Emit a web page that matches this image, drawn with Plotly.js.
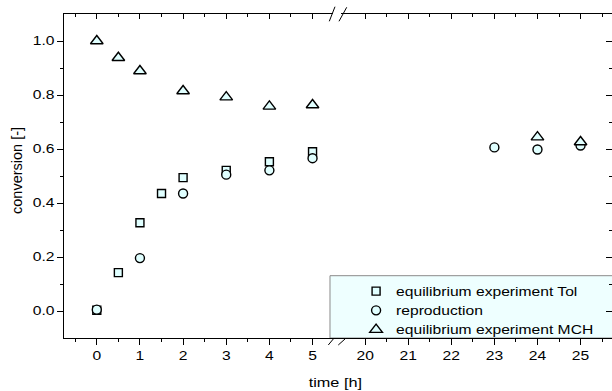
<!DOCTYPE html>
<html>
<head>
<meta charset="utf-8">
<script src="https://cdn.plot.ly/plotly-3.0.1.min.js"></script>
<style>html,body{margin:0;padding:0;background:#fff;}</style>
</head>
<body>
<div id="chart" style="width:612px;height:391px;"></div>
<script>
// ---- data ----
const timeTol = [0, 0.5, 1, 1.5, 2, 3, 4, 5];
const convTol = [0.003, 0.142, 0.327, 0.435, 0.494, 0.521, 0.553, 0.590];
const timeRep = [0, 1, 2, 3, 4, 5, 23, 24, 25];
const convRep = [0.005, 0.196, 0.435, 0.505, 0.521, 0.566, 0.606, 0.598, 0.613];
const timeMCH = [0, 0.5, 1, 2, 3, 4, 5, 24, 25];
const convMCH = [1.0, 0.938, 0.889, 0.815, 0.792, 0.758, 0.763, 0.644, 0.626];
const seriesNames = ['equilibrium experiment Tol', 'reproduction', 'equilibrium experiment MCH'];

const leftTicks = [0, 1, 2, 3, 4, 5];
const rightTicks = [20, 21, 22, 23, 24, 25];
const leftMinor = [-0.5, 0.5, 1.5, 2.5, 3.5, 4.5];
const rightMinor = [20.5, 21.5, 22.5, 23.5, 24.5, 25.5];
const yTicks = [0, 0.2, 0.4, 0.6, 0.8, 1.0];
const yMinor = [0.1, 0.3, 0.5, 0.7, 0.9];

const leftRange = [-0.76, 5.59];
const rightRange = [19.37, 25.73];
const yRange = [-0.1, 1.1];

const fill = '#e0ffff';
function mk(sym, size) {
  return {symbol: sym, size: size, color: fill, line: {color: '#000', width: 1.4}};
}
// split a series into the two panels of the broken axis
function part(xs, ys, lo, hi) {
  const ox = [], oy = [];
  xs.forEach((v, i) => { if (v >= lo && v <= hi) { ox.push(v); oy.push(ys[i]); } });
  return {x: ox, y: oy};
}
const defs = [
  [timeTol, convTol, 'square', 8],
  [timeRep, convRep, 'circle', 9],
  [timeMCH, convMCH, 'triangle-up', 11]
];
const traces = [];
defs.forEach((d, k) => {
  const a = part(d[0], d[1], leftRange[0], leftRange[1]);
  const b = part(d[0], d[1], rightRange[0], rightRange[1]);
  traces.push({type: 'scatter', mode: 'markers', x: a.x, y: a.y, xaxis: 'x', yaxis: 'y',
    name: seriesNames[k], legendgroup: 'g' + k, marker: mk(d[2], d[3]), cliponaxis: false});
  traces.push({type: 'scatter', mode: 'markers', x: b.x, y: b.y, xaxis: 'x2', yaxis: 'y',
    name: seriesNames[k], legendgroup: 'g' + k, showlegend: false, marker: mk(d[2], d[3]), cliponaxis: false});
});
// empty helper traces so the mirrored (top / right) axes are drawn
[['x3', 'y'], ['x4', 'y'], ['x2', 'y2']].forEach(p => {
  traces.push({type: 'scatter', mode: 'markers', x: [], y: [], xaxis: p[0], yaxis: p[1],
    showlegend: false, hoverinfo: 'skip'});
});

const FONT = 'Liberation Sans, Arial, sans-serif';
const FS = 12.5;
const STRETCH = 1.25;
function xax(dom, rng, tv, mv, extra) {
  return Object.assign({
    domain: dom, range: rng, tickmode: 'array', tickvals: tv,
    ticks: 'outside', ticklen: 6, tickwidth: 1, tickcolor: '#000',
    minor: {tickmode: 'array', tickvals: mv, ticks: 'outside', ticklen: 3, tickwidth: 1, tickcolor: '#000'},
    showline: true, linecolor: '#000', linewidth: 1,
    showgrid: false, zeroline: false, tickfont: {family: FONT, size: FS, color: '#000'}
  }, extra);
}
const layout = {
  width: 612, height: 391,
  margin: {l: 64, r: 0, t: 14, b: 53, pad: 0},
  paper_bgcolor: '#fff', plot_bgcolor: 'rgba(0,0,0,0)',
  font: {family: FONT, size: FS, color: '#000'},
  showlegend: true,
  legend: {x: 0.533, xanchor: 'left', y: -0.02, yanchor: 'bottom',
    bgcolor: 'rgba(0,0,0,0)', borderwidth: 0, font: {family: FONT, size: FS, color: '#000'},
    tracegroupgap: 0, traceorder: 'normal'},
  xaxis: xax([0, 0.5], leftRange, leftTicks, leftMinor, {anchor: 'y'}),
  xaxis2: xax([0.5, 1], rightRange, rightTicks, rightMinor, {anchor: 'y'}),
  xaxis3: xax([0, 0.5], leftRange, leftTicks, leftMinor, {anchor: 'y', overlaying: 'x', side: 'top',
    ticks: 'inside', ticklen: 5, showticklabels: false,
    minor: {tickmode: 'array', tickvals: leftMinor, ticks: 'inside', ticklen: 3, tickwidth: 1, tickcolor: '#000'}}),
  xaxis4: xax([0.5, 1], rightRange, rightTicks, rightMinor, {anchor: 'y', overlaying: 'x2', side: 'top',
    ticks: 'inside', ticklen: 5, showticklabels: false,
    minor: {tickmode: 'array', tickvals: rightMinor, ticks: 'inside', ticklen: 3, tickwidth: 1, tickcolor: '#000'}}),
  yaxis: {
    domain: [0, 1], range: yRange, anchor: 'x', tickmode: 'array', tickvals: yTicks, tickformat: '.1f',
    ticks: 'outside', ticklen: 6, tickwidth: 1, tickcolor: '#000',
    minor: {tickmode: 'array', tickvals: yMinor, ticks: 'outside', ticklen: 3, tickwidth: 1, tickcolor: '#000'},
    showline: true, linecolor: '#000', linewidth: 1, showgrid: false, zeroline: false,
    tickfont: {family: FONT, size: FS, color: '#000'}
  },
  yaxis2: {
    range: yRange, overlaying: 'y', side: 'right', anchor: 'free', position: 1,
    tickmode: 'array', tickvals: yTicks, ticks: 'inside', ticklen: 6, tickwidth: 1, tickcolor: '#000',
    minor: {tickmode: 'array', tickvals: yMinor, ticks: 'inside', ticklen: 3, tickwidth: 1, tickcolor: '#000'},
    showline: false, showgrid: false, zeroline: false, showticklabels: false
  },
  shapes: [
    // legend box
    {type: 'rect', xref: 'paper', yref: 'paper', x0: 0.4854, x1: 1.2, y0: 0, y1: 0.1923,
      fillcolor: '#eeffff', line: {color: '#8a8a8a', width: 1}, layer: 'below'},
    // axis-break marks (top)
    {type: 'rect', xref: 'paper', yref: 'paper', x0: 0.4909, x1: 0.5055, y0: 0.9938, y1: 1.0062,
      fillcolor: '#fff', line: {width: 0}, layer: 'above'},
    {type: 'line', xref: 'paper', yref: 'paper', x0: 0.4841, x1: 0.4945, y0: 0.9775, y1: 1.0225,
      line: {color: '#000', width: 1}},
    {type: 'line', xref: 'paper', yref: 'paper', x0: 0.5018, x1: 0.5159, y0: 0.9775, y1: 1.0207,
      line: {color: '#000', width: 1}},
    // axis-break marks (bottom)
    {type: 'line', xref: 'paper', yref: 'paper', x0: 0.4823, x1: 0.4914, y0: -0.0216, y1: -0.0031,
      line: {color: '#000', width: 1}},
    {type: 'line', xref: 'paper', yref: 'paper', x0: 0.5005, x1: 0.5128, y0: -0.0216, y1: -0.0031,
      line: {color: '#000', width: 1}}
  ],
  annotations: [
    {text: 'time [h]', xref: 'paper', yref: 'paper', x: 0.4954, y: -0.1373, xanchor: 'center', yanchor: 'middle',
      showarrow: false, font: {family: FONT, size: 13, color: '#000'}},
    {text: 'conversion [-]', xref: 'paper', yref: 'paper', x: -0.0858, y: 0.5185, xanchor: 'center', yanchor: 'middle',
      textangle: -90, showarrow: false, font: {family: FONT, size: 14.5, color: '#000'}}
  ]
};
Plotly.newPlot('chart', traces, layout, {staticPlot: true, displayModeBar: false}).then(gd => {
  // the legend's clip box is sized for unstretched text: remove it
  gd.querySelectorAll('.legend [clip-path]').forEach(e => e.removeAttribute('clip-path'));
  // the reference text is drawn horizontally widened; reproduce that with textLength
  const sel = gd.querySelectorAll('.xtick text, .x2tick text, .ytick text, text.legendtext, text.annotation-text');
  sel.forEach(t => {
    if (t.textContent === 'conversion [-]') return;
    const len = t.getComputedTextLength();
    if (len > 0) {
      t.setAttribute('textLength', (len * STRETCH).toFixed(2));
      t.setAttribute('lengthAdjust', 'spacingAndGlyphs');
    }
  });
});
</script>
</body>
</html>
